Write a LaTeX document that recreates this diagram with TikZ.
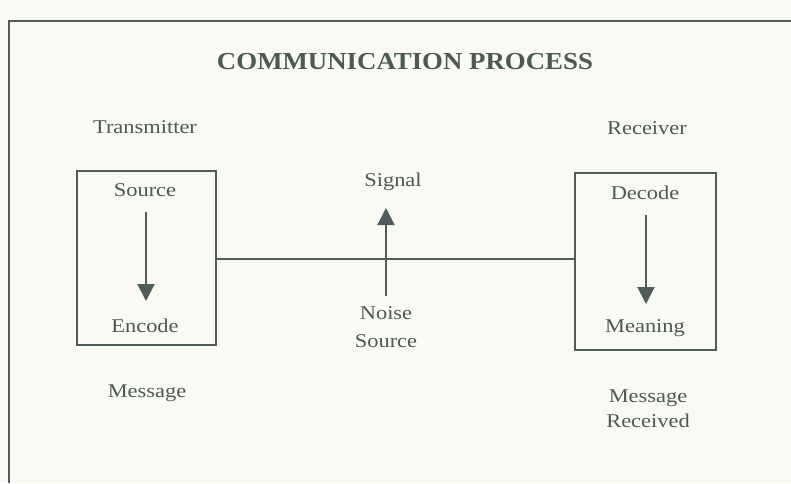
\documentclass[tikz,border=0pt]{standalone}
\usepackage{fontspec}
\setmainfont{Liberation Serif}
\usetikzlibrary{arrows.meta}
\definecolor{paper}{HTML}{FAFAF5}
\definecolor{ink}{HTML}{4C5955}
\definecolor{rule}{HTML}{4F5C59}
\newcommand{\widetext}[1]{\scalebox{1.15}[1]{#1}}
\tikzset{
  lbl/.style={text=ink, font=\fontsize{19.5}{22}\selectfont, inner sep=0pt, align=center},
  ttl/.style={text=ink, font=\fontsize{24.4}{27}\selectfont\bfseries, inner sep=0pt},
  stagebox/.style={draw=rule, line width=2pt, inner sep=0pt},
  wire/.style={draw=rule, line width=2pt},
  flow/.style={draw=rule, line width=2pt, -{Triangle[width=17pt,length=17pt]}},
}
\begin{document}
\begin{tikzpicture}[x=1pt,y=-1pt]
  % page and frame
  \fill[paper] (0,0) rectangle (791,483);
  \useasboundingbox (0,0) rectangle (791,483);
  \draw[rule, line width=2pt] (9,483) -- (9,21) -- (791,21);

  % title
  \node[ttl] (title) at (405,62) {\scalebox{1.1}[1]{COMMUNICATION PROCESS}};

  % side headings
  \node[lbl] (tx) at (145,127) {\widetext{Transmitter}};
  \node[lbl] (rx) at (647,128) {\widetext{Receiver}};

  % boxes
  \node[stagebox, minimum width=139pt, minimum height=174pt] (lbox) at (146.5,257.5) {};
  \node[stagebox, minimum width=141pt, minimum height=177pt] (rbox) at (645.5,261.5) {};

  % box contents
  \node[lbl] (src) at (145,190) {\widetext{Source}};
  \node[lbl] (enc) at (145,326) {\widetext{Encode}};
  \node[lbl] (dec) at (645,193) {\widetext{Decode}};
  \node[lbl] (mng) at (645,328) {\widetext{Meaning}};
  \coordinate (a1s) at (146,212);
  \coordinate (a1e) at (146,301);
  \coordinate (a2s) at (646,215);
  \coordinate (a2e) at (646,304);
  \draw[flow] (a1s) -- (a1e);
  \draw[flow] (a2s) -- (a2e);

  % channel
  \coordinate (cross) at (386,259);
  \draw[wire] (lbox.east |- cross) -- (rbox.west |- cross);

  % noise and signal
  \node[lbl] (sig) at (393,182) {\widetext{Signal}};
  \node[lbl] (noise) at (386,327) {\widetext{Noise}\\[6pt]\widetext{Source}};
  \coordinate (nbase) at (386,296);
  \coordinate (stip) at (386,208);
  \draw[flow] (nbase) -- (stip);

  % captions
  \node[lbl] (msg) at (147,393) {\widetext{Message}};
  \node[lbl] (msgr) at (648,409) {\widetext{Message}\\[3pt]\widetext{Received}};
\end{tikzpicture}
\end{document}
